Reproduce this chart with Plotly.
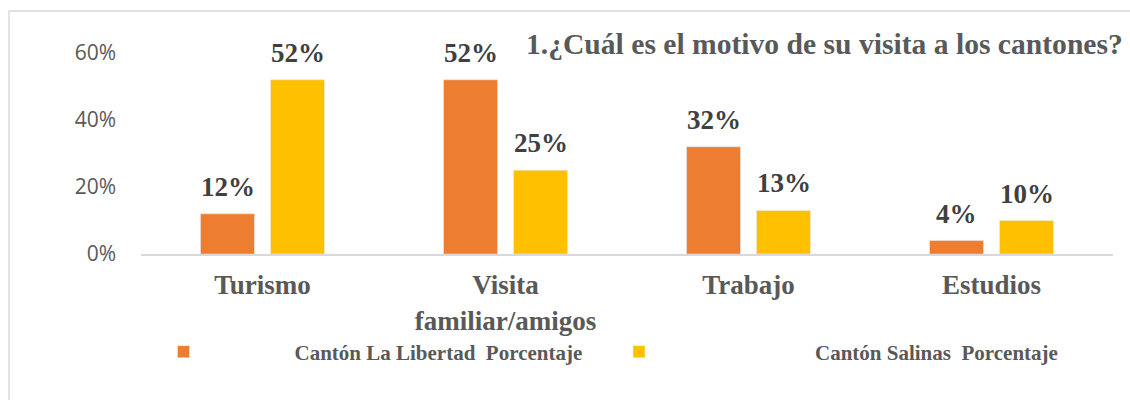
import plotly.graph_objects as go

categories = ["Turismo", "Visita familiar/amigos", "Trabajo", "Estudios"]
tick_text = ["Turismo", "Visita<br>familiar/amigos", "Trabajo", "Estudios"]
libertad = [0.12, 0.52, 0.32, 0.04]
salinas = [0.52, 0.25, 0.13, 0.10]
series_names = ["Cantón La Libertad  Porcentaje", "Cantón Salinas  Porcentaje"]
series_colors = ["#ED7D31", "#FFC000"]
title_text = "1.¿Cuál es el motivo de su visita a los cantones?"

W, H = 1130, 400
ML, MR, MT, MB = 141, 17, 53, 146
PW, PH = W - ML - MR, H - MT - MB

def px_x(px):
    return (px - ML) / PW

def px_y(py):
    return (H - MB - py) / PH

serif = "Liberation Serif"
fig = go.Figure()
for name, vals, col, leg in zip(series_names, [libertad, salinas], series_colors, ["legend", "legend2"]):
    fig.add_trace(go.Bar(x=categories, y=vals, name=name, marker_color=col,
                         legend=leg, showlegend=True, hoverinfo="skip"))

annotations = []
for vals, shift in [(libertad, -35), (salinas, 35)]:
    for c, v in zip(categories, vals):
        annotations.append(dict(x=c, y=v, xref="x", yref="y", text=f"{round(v*100)}%",
                                showarrow=False, xshift=shift, yshift=27, yanchor="middle",
                                font=dict(family=serif, size=27, color="#404040", weight="bold")))

annotations.append(dict(x=px_x(524), y=px_y(44), xref="paper", yref="paper", text=title_text,
                        showarrow=False, xanchor="left", yanchor="middle",
                        font=dict(family=serif, size=29.6, color="#595959", weight="bold")))

legend_font = dict(family=serif, size=21, color="#595959", weight="bold")
fig.update_layout(
    width=W, height=H, margin=dict(l=ML, r=MR, t=MT, b=MB, autoexpand=False),
    paper_bgcolor="white", plot_bgcolor="white",
    barmode="group", bargap=0.424, bargroupgap=0.229,
    annotations=annotations,
    shapes=[dict(type="rect", xref="paper", yref="paper", x0=px_x(9), x1=px_x(1145),
                 y0=px_y(415), y1=px_y(11), line=dict(color="#d9d9d9", width=1.5),
                 layer="below")],
    legend=dict(orientation="h", xref="container", yref="container",
                x=72.5 / W, y=1 - 352 / H, xanchor="left", yanchor="middle",
                itemwidth=212, bgcolor="rgba(0,0,0,0)", font=legend_font),
    legend2=dict(orientation="h", xref="container", yref="container",
                 x=463 / W, y=1 - 352 / H, xanchor="left", yanchor="middle",
                 itemwidth=342, bgcolor="rgba(0,0,0,0)", font=legend_font),
    xaxis=dict(tickvals=categories, ticktext=tick_text, showline=True, linecolor="#d9d9d9",
               linewidth=2, ticks="", showgrid=False, zeroline=False, ticklabelstandoff=6,
               tickfont=dict(family=serif, size=27, color="#595959", weight="bold")),
    yaxis=dict(range=[0, 0.6], tickvals=[0, 0.2, 0.4, 0.6], tickformat=".0%",
               showgrid=False, zeroline=False, showline=False, ticks="",
               ticklabelstandoff=24,
               tickfont=dict(family="Open Sans", size=21, color="#595959")),
)

fig.write_html("out.html", config={"displayModeBar": False},
               post_script="document.body.style.margin='0';")
